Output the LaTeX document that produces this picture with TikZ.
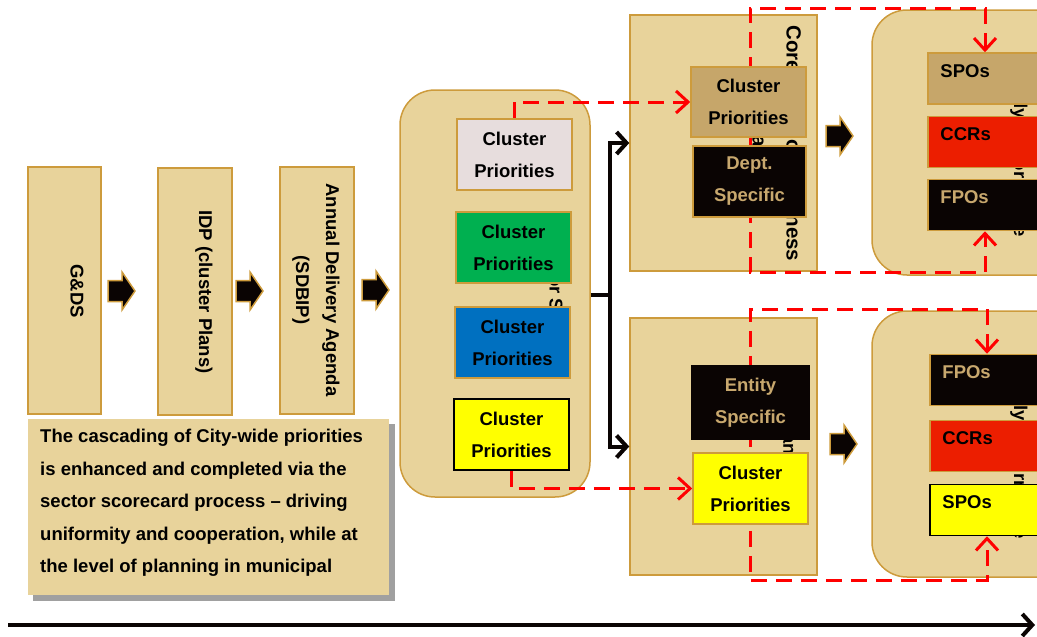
\documentclass[tikz,border=0pt]{standalone}
\usepackage{fontspec}
\setmainfont{Liberation Sans}
\usetikzlibrary{arrows.meta}

\definecolor{tan}{RGB}{232,211,155}
\definecolor{gold}{RGB}{205,155,60}
\definecolor{darktan}{RGB}{198,166,106}
\definecolor{paletxt}{RGB}{200,168,110}
\definecolor{pinkgrey}{RGB}{231,221,221}
\definecolor{cgreen}{RGB}{0,176,80}
\definecolor{cblue}{RGB}{0,112,192}
\definecolor{cyellow}{RGB}{255,255,0}
\definecolor{nearblack}{RGB}{10,4,3}
\definecolor{ccrred}{RGB}{236,30,0}
\definecolor{dashred}{RGB}{255,0,0}
\definecolor{shadowgrey}{RGB}{160,160,160}

\pgfdeclarelayer{back}
\pgfdeclarelayer{mid}
\pgfsetlayers{back,mid,main}

\begin{document}
\begin{tikzpicture}[x=1pt,y=-1pt,
  txt/.style={font=\fontsize{18.5}{32}\selectfont\bfseries},
  stage/.style={draw=gold, fill=tan, line width=1.5pt, inner sep=0pt},
  inbox/.style={draw=gold, line width=1.5pt, inner sep=0pt, txt, align=center},
  rbox/.style={inbox, minimum width=114, minimum height=51},
  lbl/.style={txt, inner sep=0pt, anchor=base west, xshift=13pt, yshift=-25pt},
  hidden/.style={txt, rotate=-90, inner sep=0pt},
  blockfill/.style={draw=gold, fill=nearblack, line width=1.5pt},
  reddash/.style={draw=dashred, line width=3pt, dash pattern=on 16pt off 9pt,
    -{Straight Barb[length=12pt,width=22pt]}},
  reddashboth/.style={reddash, {Straight Barb[length=12pt,width=22pt]}-{Straight Barb[length=12pt,width=22pt]}},
  conn/.style={draw=nearblack, line width=4pt},
  pics/blockarrow/.style={code={
    \draw[blockfill] (0,-10.5) -- (14,-10.5) -- (14,-19) -- (27,0) -- (14,19) -- (14,10.5) -- (0,10.5) -- cycle;}}
]
\useasboundingbox (0,0) rectangle (1037,637);
\clip (0,0) rectangle (1037,637);

% ---------- containers ----------
\begin{pgfonlayer}{back}
  \node[stage, minimum width=73, minimum height=247] (gds) at (64.5,290.5) {};
  \node[stage, minimum width=74, minimum height=247] (idp) at (195,291.5) {};
  \node[stage, minimum width=74, minimum height=247] (sdbip) at (317,290.5) {};
  \node[hidden] (gdstxt) at (77,291) {G\&DS};
  \node[hidden] (idptxt) at (204,292) {IDP (cluster Plans)};
  \node[hidden, align=center, font=\fontsize{18.5}{30}\selectfont\bfseries] (sdbiptxt) at (316,290) {Annual Delivery Agenda\\(SDBIP)};

  % explanatory note with its drop shadow
  \fill[shadowgrey] (33,424) rectangle (395,601);
  \node[fill=tan, inner sep=0pt, minimum width=361, minimum height=176] (note) at (208.5,507) {};
  \node[txt, align=left, anchor=north west, inner sep=0pt, font=\fontsize{18.5}{32.5}\selectfont\bfseries] (notetxt) at (40,429)
    {The cascading of City-wide priorities\\is enhanced and completed via the\\sector scorecard process – driving\\uniformity and cooperation, while at\\the level of planning in municipal};

  % sector container
  \node[stage, rounded corners=35pt, minimum width=190, minimum height=407] (big) at (495,293.5) {};
  \node[hidden, anchor=west] (bigtxt) at (556,236) {Sector SDBIPs};

  % business plan containers
  \node[stage, minimum width=187, minimum height=256] (midA) at (723.5,143) {};
  \node[stage, minimum width=187, minimum height=257] (midB) at (723.5,446.5) {};
  \node[hidden, align=center, font=\fontsize{20.5}{34}\selectfont\bfseries] (midAtxt) at (777,143.5) {Core Function Business\\Plans};
  \node[hidden, anchor=west] (midBtxt) at (790,416) {Plans};

  % individual scorecard containers
  \node[stage, rounded corners=35pt, minimum width=228, minimum height=265] (rA) at (986,142.5) {};
  \node[stage, rounded corners=35pt, minimum width=228, minimum height=266] (rB) at (986,444) {};
  \node[hidden, anchor=west] (rAtxt) at (1019,55) {Weekly Performance};
  \node[hidden, anchor=west] (rBtxt) at (1019,357) {Weekly Performance};
\end{pgfonlayer}

% ---------- inner boxes ----------
\node[inbox, fill=pinkgrey, minimum width=115, minimum height=71] (c1) at (514.5,154.5) {Cluster\\Priorities};
\node[inbox, fill=cgreen, minimum width=115, minimum height=71] (c2) at (513.5,247.5) {Cluster\\Priorities};
\node[inbox, fill=cblue, minimum width=115, minimum height=71] (c3) at (512.5,342.5) {Cluster\\Priorities};
\node[inbox, draw=black, fill=cyellow, minimum width=115, minimum height=71] (c4) at (511.5,434.5) {Cluster\\Priorities};

\node[inbox, fill=darktan, minimum width=115, minimum height=70] (mc1) at (748.5,102) {Cluster\\Priorities};
\node[inbox, fill=nearblack, text=paletxt, minimum width=113, minimum height=71] (dept) at (749.5,181.5) {Dept.\\Specific};
\node[inbox, draw=nearblack, fill=nearblack, text=paletxt, minimum width=117, minimum height=73] (ent) at (750.5,402.5) {Entity\\Specific};
\node[inbox, fill=cyellow, minimum width=115, minimum height=71] (mc2) at (750.5,488.5) {Cluster\\Priorities};

\node[rbox, fill=darktan, label={[lbl]north west:SPOs}] (spoA) at (985,78.5) {};
\node[rbox, fill=ccrred, label={[lbl]north west:CCRs}] (ccrA) at (985,142) {};
\node[rbox, fill=nearblack, label={[lbl, text=paletxt]north west:FPOs}] (fpoA) at (985,205) {};

\node[rbox, fill=nearblack, label={[lbl, text=paletxt]north west:FPOs}] (fpoB) at (987,380) {};
\node[rbox, fill=ccrred, label={[lbl]north west:CCRs}] (ccrB) at (987,446) {};
\node[rbox, draw=black, fill=cyellow, label={[lbl]north west:SPOs}] (spoB) at (987,510) {};

% ---------- block arrows between stages ----------
\pic at (108,291) {blockarrow};
\pic at (236,291) {blockarrow};
\pic at (362,290) {blockarrow};
\pic at (826,136) {blockarrow};
\pic at (830,444) {blockarrow};

% ---------- red dashed cascade links ----------
\coordinate (tA) at (750,8);
\coordinate (bA) at (750,272);
\coordinate (tB) at (750,309);
\coordinate (bB) at (750,580);
\begin{pgfonlayer}{mid}
  \draw[reddash] (c1.north) |- (mc1.west);
  \draw[reddash] (c4.south) |- (mc2.west);
  \draw[reddashboth] (spoA.north) -- (spoA.north |- tA) -- (tA) -- (bA) -- (fpoA.south |- bA) -- (fpoA.south);
  \draw[reddashboth] (fpoB.north) -- (fpoB.north |- tB) -- (tB) -- (bB) -- (spoB.south |- bB) -- (spoB.south);
\end{pgfonlayer}

% ---------- black branching connector ----------
\coordinate (split) at (610,295);
\draw[conn] (big.east |- split) -- (split);
\draw[conn, -{Straight Barb[length=10pt,width=22pt]}] (split) |- (midA.west);
\draw[conn, -{Straight Barb[length=10pt,width=22pt]}] (split) |- (midB.west);

% ---------- time line ----------
\coordinate (tl0) at (8,625);
\coordinate (tl1) at (1035,625);
\draw[conn, -{Straight Barb[length=10pt,width=22pt]}] (tl0) -- (tl1);
\end{tikzpicture}
\end{document}
